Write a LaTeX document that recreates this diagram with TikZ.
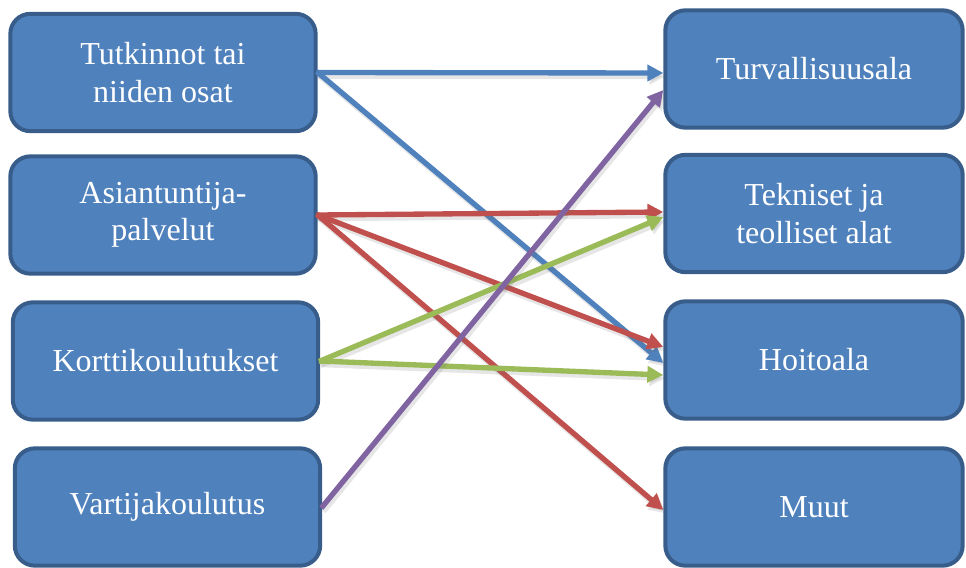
\documentclass[tikz,border=0pt]{standalone}
\usepackage{fontspec}
\setmainfont{Liberation Serif}
\usetikzlibrary{calc,arrows.meta}

\definecolor{boxfill}{HTML}{4F81BD}
\definecolor{boxline}{HTML}{385D8A}
\definecolor{cblue}{HTML}{4F81BD}
\definecolor{cred}{HTML}{C0504D}
\definecolor{cgreen}{HTML}{9BBB59}
\definecolor{cpurple}{HTML}{8064A2}

\tikzset{
  field/.style={draw=boxline, fill=boxfill, line width=3pt, rounded corners=15pt,
    minimum width=229pt, minimum height=88pt, inner sep=0pt,
    text=white, align=center,
    font=\fontsize{24}{28}\selectfont},
  tip/.style={-{Triangle[length=12pt,width=12pt]}},
  link/.style={line width=4pt, tip, shorten <=-1pt,
    preaction={draw=black!60, opacity=0.16, line width=4.4pt, tip,
      transform canvas={xshift=1.5pt,yshift=-2.5pt}}}
}

\begin{document}
\begin{tikzpicture}[x=0.75pt,y=-0.75pt]
\useasboundingbox (0,0) rectangle (966,567);

% source boxes
\node[field] (L1) at (163,72.5)  {Tutkinnot tai\\niiden osat};
\node[field] (L2) at (163,215)   {Asiantuntija-\\palvelut};
\node[field] (L3) at (165.5,361) {Korttikoulutukset};
\node[field] (L4) at (167.5,507) {Vartijakoulutus};

% target boxes
\node[field, minimum width=223pt] (R1) at (814,69)    {Turvallisuusala};
\node[field, minimum width=223pt] (R2) at (814,213.5) {Tekniset ja\\teolliset alat};
\node[field, minimum width=223pt] (R3) at (814,360)   {Hoitoala};
\node[field, minimum width=223pt] (R4) at (814,507)   {Muut};

% connector end points on the target boxes
\coordinate (r1a) at ($(R1.west)+(0,4)$);
\coordinate (r1b) at ($(R1.west)+(0,21)$);
\coordinate (r2a) at ($(R2.west)+(0,-1.5)$);
\coordinate (r2b) at ($(R2.west)+(0,3.5)$);
\coordinate (r3a) at ($(R3.west)+(0,-13)$);
\coordinate (r3b) at ($(R3.west)+(0,3)$);
\coordinate (r3c) at ($(R3.west)+(0,15)$);
\coordinate (r4a) at ($(R4.west)+(0,3)$);

% connectors
\draw[link, cblue]   (L1.east) -- (r1a);
\draw[link, cblue]   (L1.east) -- (r3b);
\draw[link, cred]    (L2.east) -- (r2a);
\draw[link, cred]    (L2.east) -- (r3a);
\draw[link, cred]    (L2.east) -- (r4a);
\draw[link, cgreen]  (L3.east) -- (r2b);
\draw[link, cgreen]  (L3.east) -- (r3c);
\draw[link, cpurple] (L4.east) -- (r1b);
\end{tikzpicture}
\end{document}
